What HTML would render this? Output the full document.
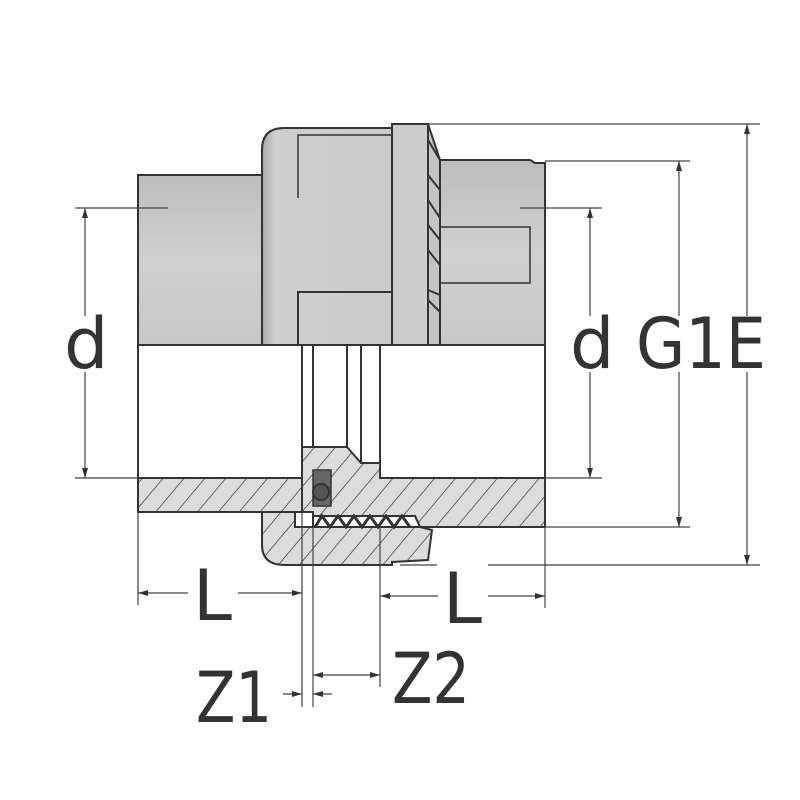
<!DOCTYPE html>
<html><head><style>html,body{margin:0;background:#fff}svg{display:block}</style></head>
<body>
<svg width="800" height="800" viewBox="0 0 800 800" xmlns="http://www.w3.org/2000/svg">
<defs>
<linearGradient id="g1" x1="0" y1="0" x2="0" y2="1"><stop offset="0" stop-color="#bdbdbd"/><stop offset="0.5" stop-color="#d0d0d0"/><stop offset="1" stop-color="#c8c8c8"/></linearGradient>
<linearGradient id="g2" x1="0" y1="0" x2="1" y2="0"><stop offset="0" stop-color="#a8a8a8"/><stop offset="0.1" stop-color="#cfcfcf"/><stop offset="1" stop-color="#cbcbcb"/></linearGradient>
<pattern id="h" width="16" height="16" patternUnits="userSpaceOnUse" patternTransform="rotate(40)"><rect width="16" height="16" fill="#dcdcdc"/><line x1="0" y1="0" x2="0" y2="16" stroke="#333" stroke-width="1.4"/></pattern>
<marker id="a" viewBox="0 0 10 6" refX="10" refY="3" markerWidth="10" markerHeight="6" orient="auto-start-reverse" markerUnits="userSpaceOnUse"><path d="M0,0L10,3L0,6z" fill="#333"/></marker>
</defs>
<g stroke="#333" stroke-width="2">
<rect x="138" y="175" width="124" height="170" fill="url(#g1)"/>
<path d="M438,160 L530,160 L535,163 L545,163 L545,345 L438,345Z" fill="url(#g1)"/>
<path d="M440,227 L530,227 L530,283 L440,283" fill="none" stroke-width="1.5"/>
<path d="M262,345 L262,150 Q262,128 284,128 L392,128 L392,345Z" fill="url(#g2)"/>
<path d="M298,198 L298,135 L392,135" fill="none" stroke-width="1.5"/>
<path d="M298,345 L298,292 L392,292" fill="none"/>
<rect x="392" y="124" width="36" height="221" fill="#cdcdcd"/>
<path d="M428,124 L440,160 L440,345 L428,345Z" fill="#c4c4c4"/>
<path d="M428,140 L440,160 M428,175 L440,190 M428,200 L440,218 M428,225 L440,240 M428,250 L440,265 M428,290 L440,295 M428,300 L440,312" stroke-width="2" fill="none"/>
<rect x="138" y="345" width="407" height="133" fill="#fff"/>
<line x1="302" y1="345" x2="302" y2="478"/><line x1="313" y1="345" x2="313" y2="450"/>
<line x1="347" y1="345" x2="347" y2="450"/><line x1="361" y1="345" x2="361" y2="463"/><line x1="380" y1="345" x2="380" y2="478"/>
<path d="M138,478 L302,478 L302,512 L138,512Z" fill="url(#h)"/>
<path d="M302,447 L347,447 L361,463 L380,463 L380,478 L545,478 L545,527 L420,527 L415,516 L313,516 L313,512 L302,512Z" fill="url(#h)"/>
<path d="M262,512 L295,512 L295,527 L420,527 L432,530 L428,560 L392,562 L392,565 L285,565 Q262,565 262,545Z" fill="url(#h)"/>
<path d="M313,516 L415,516 L420,527 L313,527Z" fill="#fff"/>
<path d="M315,527 L322,516 L330,527 L338,516 L346,527 L354,516 L362,527 L370,516 L378,527 L386,516 L394,527 L402,516 L410,527" fill="none" stroke-width="3"/>
<rect x="313" y="470" width="18" height="36" fill="#666" stroke-width="1.5"/>
<circle cx="321" cy="492" r="8" fill="#555"/>
</g>
<g stroke="#444" stroke-width="1.2" fill="none">
<line x1="75" y1="208" x2="168" y2="208"/><line x1="75" y1="478" x2="138" y2="478"/>
<line x1="85" y1="208" x2="85" y2="316" marker-start="url(#a)"/><line x1="85" y1="372" x2="85" y2="478" marker-end="url(#a)"/>
<line x1="520" y1="208" x2="602" y2="208"/><line x1="545" y1="478" x2="602" y2="478"/>
<line x1="590" y1="208" x2="590" y2="316" marker-start="url(#a)"/><line x1="590" y1="372" x2="590" y2="478" marker-end="url(#a)"/>
<line x1="545" y1="161" x2="690" y2="161"/><line x1="545" y1="527" x2="690" y2="527"/>
<line x1="679" y1="161" x2="679" y2="316" marker-start="url(#a)"/><line x1="679" y1="372" x2="679" y2="527" marker-end="url(#a)"/>
<line x1="428" y1="124" x2="760" y2="124"/><line x1="488" y1="565" x2="760" y2="565"/><line x1="400" y1="565" x2="437" y2="565"/>
<line x1="747" y1="124" x2="747" y2="316" marker-start="url(#a)"/><line x1="747" y1="372" x2="747" y2="565" marker-end="url(#a)"/>
<line x1="138" y1="512" x2="138" y2="605"/><line x1="545" y1="527" x2="545" y2="608"/>
<line x1="302" y1="512" x2="302" y2="707"/><line x1="313" y1="527" x2="313" y2="707"/><line x1="380" y1="527" x2="380" y2="687"/>
<line x1="138" y1="593" x2="188" y2="593" marker-start="url(#a)"/><line x1="238" y1="593" x2="302" y2="593" marker-end="url(#a)"/>
<line x1="380" y1="596" x2="438" y2="596" marker-start="url(#a)"/><line x1="488" y1="596" x2="545" y2="596" marker-end="url(#a)"/>
<line x1="313" y1="675" x2="380" y2="675" marker-start="url(#a)" marker-end="url(#a)"/>
<line x1="283" y1="694" x2="302" y2="694" marker-end="url(#a)"/><line x1="313" y1="694" x2="332" y2="694" marker-start="url(#a)"/>
</g>
<g font-family="DejaVu Sans, Liberation Sans, sans-serif" font-size="70" fill="#333">
<text x="64" y="368">d</text>
<text x="570" y="368">d</text>
<text x="636" y="368" textLength="130" lengthAdjust="spacingAndGlyphs">G1E</text>
<text x="193" y="620">L</text>
<text x="443" y="623">L</text>
<text x="196" y="722" textLength="76" lengthAdjust="spacingAndGlyphs">Z1</text>
<text x="392" y="703" textLength="78" lengthAdjust="spacingAndGlyphs">Z2</text>
</g>
</svg>
</body></html>
